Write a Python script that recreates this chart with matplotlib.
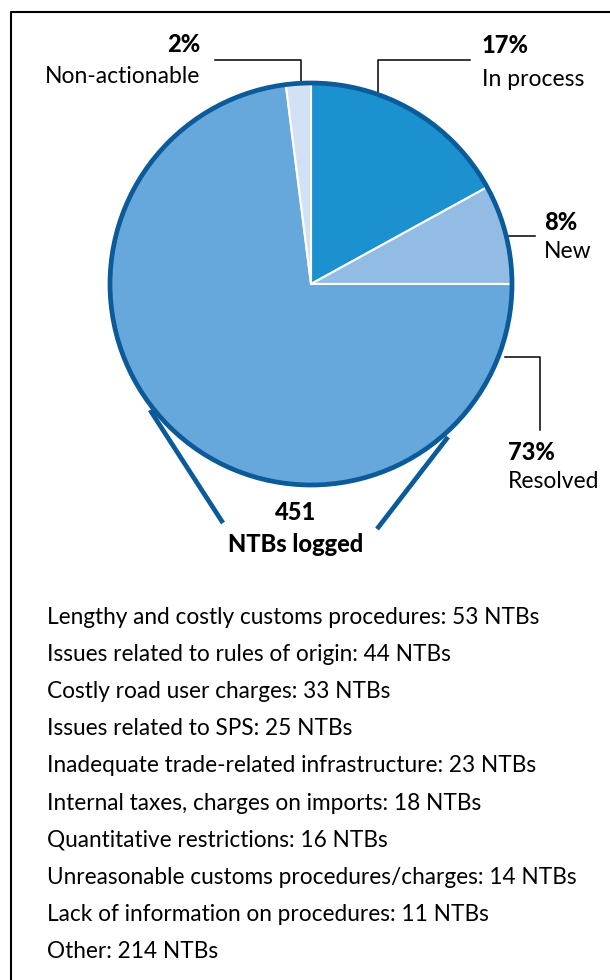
import matplotlib
matplotlib.use('Agg')
import matplotlib.pyplot as plt
from matplotlib.patches import Circle

# data
status = ['In process', 'New', 'Resolved', 'Non-actionable']
shares = [17, 8, 73, 2]
colors = ['#1b91d0', '#92bce4', '#66a8db', '#d2e1f3']
total_logged = 451

categories = ['Lengthy and costly customs procedures', 'Issues related to rules of origin',
              'Costly road user charges', 'Issues related to SPS',
              'Inadequate trade-related infrastructure', 'Internal taxes, charges on imports',
              'Quantitative restrictions', 'Unreasonable customs procedures/charges',
              'Lack of information on procedures', 'Other']
counts = [53, 44, 33, 25, 23, 18, 16, 14, 11, 214]

plt.rcParams['font.family'] = ['Lato', 'DejaVu Sans']
dark = '#0b5a9a'
H = 980


def Y(y):
    # pixel row (from top) to data y
    return H - y


fig = plt.figure(figsize=(6.1, 9.8), dpi=100)
ax = fig.add_axes([0, 0, 1, 1])

cx, cy, r = 311, 284, 201
ax.pie(shares, colors=colors, startangle=90, counterclock=False,
       center=(cx, Y(cy)), radius=r,
       wedgeprops={'edgecolor': 'white', 'linewidth': 1.5})
ax.add_patch(Circle((cx, Y(cy)), r, fill=False, edgecolor=dark, lw=3.4, zorder=5))

# funnel lines down to the total
ax.plot([150, 223], [Y(410), Y(523)], color=dark, lw=3.4, solid_capstyle='butt')
ax.plot([448, 377], [Y(437), Y(529)], color=dark, lw=3.4, solid_capstyle='butt')

# leader lines
lk = dict(color='black', lw=1.1)
ax.plot([215, 301, 301], [Y(60), Y(60), Y(84)], **lk)
ax.plot([470, 378, 378], [Y(60), Y(60), Y(92)], **lk)
ax.plot([508, 535], [Y(236), Y(236)], **lk)
ax.plot([505, 540, 540], [Y(357), Y(357), Y(430)], **lk)

bfs, rfs, lfs = 17, 16.5, 16.3
bw = 'black'
ax.text(200, Y(45), f'{shares[3]}%', fontsize=bfs, fontweight=bw, ha='right', va='center')
ax.text(200, Y(77), status[3], fontsize=rfs, ha='right', va='center')
ax.text(482, Y(46), f'{shares[0]}%', fontsize=bfs, fontweight=bw, ha='left', va='center')
ax.text(482, Y(80), status[0], fontsize=rfs, ha='left', va='center')
ax.text(544, Y(222), f'{shares[1]}%', fontsize=bfs, fontweight=bw, ha='left', va='center')
ax.text(544, Y(252), status[1], fontsize=rfs, ha='left', va='center')
ax.text(508, Y(452), f'{shares[2]}%', fontsize=bfs, fontweight=bw, ha='left', va='center')
ax.text(508, Y(482), status[2], fontsize=rfs, ha='left', va='center')

ax.text(296, Y(512), str(total_logged), fontsize=bfs, fontweight=bw, ha='center', va='center')
ax.text(296, Y(545), 'NTBs logged', fontsize=bfs, fontweight=bw, ha='center', va='center')

for i, (c, n) in enumerate(zip(categories, counts)):
    ax.text(47, Y(617 + i * 37.2), f'{c}: {n} NTBs', fontsize=lfs, ha='left', va='center')

# frame
ax.plot([11, 11, 610], [0, Y(12), Y(12)], color='black', lw=1.5, solid_capstyle='butt')

ax.set_xlim(0, 610)
ax.set_ylim(0, H)
ax.set_aspect('auto')
ax.axis('off')

fig.savefig('out.png', dpi=100)
